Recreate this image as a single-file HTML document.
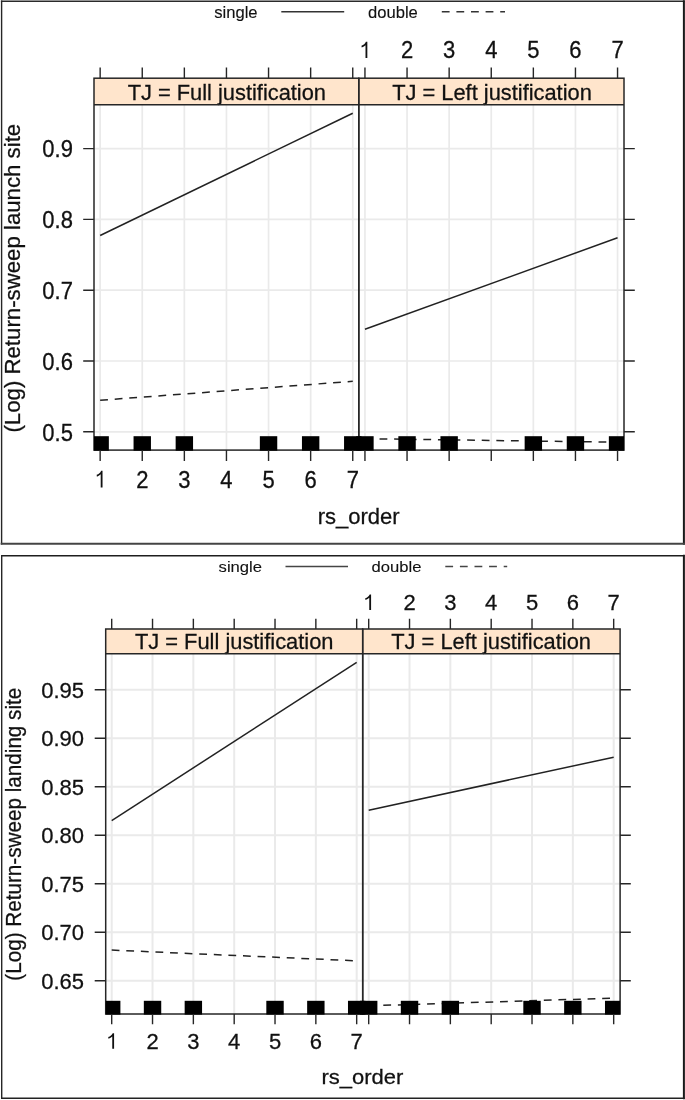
<!DOCTYPE html>
<html><head><meta charset="utf-8"><title>Return-sweep effects plots</title>
<style>
html,body{margin:0;padding:0;background:#fff;}
body{width:685px;height:1100px;overflow:hidden;}
svg{display:block;font-family:"Liberation Sans",sans-serif;will-change:transform;}
text{fill:#111;stroke:#111;stroke-width:0.28px;}
text.lg{stroke-width:0.12px;}
</style></head>
<body>
<svg width="685" height="1100" viewBox="0 0 685 1100">
<rect x="0" y="0" width="685" height="1100" fill="#fff"/>
<line x1="1.6" y1="1.2" x2="683.9" y2="1.2" stroke="#2a2a2a" stroke-width="1.4" stroke-linecap="square"/>
<line x1="1.6" y1="1.2" x2="1.6" y2="543.8" stroke="#262626" stroke-width="1.4" stroke-linecap="square"/>
<line x1="683.9" y1="1.2" x2="683.9" y2="543.8" stroke="#1a1a1a" stroke-width="2" stroke-linecap="square"/>
<line x1="1.6" y1="543.8" x2="683.9" y2="543.8" stroke="#444444" stroke-width="1.9" stroke-linecap="square"/>
<text x="214.2" y="17.9" font-size="16.6" text-anchor="start" class="lg">single</text>
<line x1="281.3" y1="11.7" x2="344.2" y2="11.7" stroke="#333333" stroke-width="1.5" />
<text x="368" y="17.9" font-size="16.6" text-anchor="start" class="lg">double</text>
<line x1="441.8" y1="11.8" x2="505" y2="11.8" stroke="#333333" stroke-width="1.5" stroke-dasharray="7.8 6.8"/>
<clipPath id="ca0"><rect x="94" y="104.8" width="264.8" height="345.3"/></clipPath>
<clipPath id="ca1"><rect x="358.8" y="104.8" width="265.2" height="345.3"/></clipPath>
<path d="M100.15 104.8V450.1M142.25 104.8V450.1M184.35 104.8V450.1M226.45 104.8V450.1M268.55 104.8V450.1M310.65 104.8V450.1M352.75 104.8V450.1M94 431.8H358.8M94 361H358.8M94 290.2H358.8M94 219.4H358.8M94 148.6H358.8" stroke="#eaeaea" stroke-width="1.7" fill="none"/>
<path d="M364.95 104.8V450.1M407.05 104.8V450.1M449.15 104.8V450.1M491.25 104.8V450.1M533.35 104.8V450.1M575.45 104.8V450.1M617.55 104.8V450.1M358.8 431.8H624M358.8 361H624M358.8 290.2H624M358.8 219.4H624M358.8 148.6H624" stroke="#eaeaea" stroke-width="1.7" fill="none"/>
<g clip-path="url(#ca0)">
<line x1="100.15" y1="235.5" x2="352.75" y2="113.2" stroke="#222222" stroke-width="1.5" />
<line x1="100.15" y1="400.3" x2="352.75" y2="381.3" stroke="#222222" stroke-width="1.5" stroke-dasharray="7.8 6.8"/>
</g>
<g clip-path="url(#ca1)">
<line x1="364.95" y1="329.2" x2="617.55" y2="237.8" stroke="#222222" stroke-width="1.5" />
<line x1="364.95" y1="438.7" x2="617.55" y2="442.2" stroke="#222222" stroke-width="1.5" stroke-dasharray="7.8 6.8"/>
</g>
<rect x="94" y="78.2" width="264.8" height="26.6" fill="#ffe5cc" stroke="none" stroke-width="1" />
<rect x="358.8" y="78.2" width="265.2" height="26.6" fill="#ffe5cc" stroke="none" stroke-width="1" />
<text transform="translate(226.8 99.9) scale(1 1.02)" font-size="21.85" text-anchor="middle" >TJ = Full justification</text>
<text transform="translate(492 99.9) scale(1 1.02)" font-size="21.85" text-anchor="middle" >TJ = Left justification</text>
<rect x="94" y="78.2" width="264.8" height="371.9" fill="none" stroke="#262626" stroke-width="1.5" />
<line x1="94" y1="104.8" x2="358.8" y2="104.8" stroke="#262626" stroke-width="1.5" />
<rect x="358.8" y="78.2" width="265.2" height="371.9" fill="none" stroke="#262626" stroke-width="1.5" />
<line x1="358.8" y1="104.8" x2="624" y2="104.8" stroke="#262626" stroke-width="1.5" />
<rect x="94" y="436.2" width="14.85" height="14.5" fill="#000" stroke="none" stroke-width="1" />
<rect x="133.55" y="436.2" width="17.4" height="14.5" fill="#000" stroke="none" stroke-width="1" />
<rect x="175.65" y="436.2" width="17.4" height="14.5" fill="#000" stroke="none" stroke-width="1" />
<rect x="259.85" y="436.2" width="17.4" height="14.5" fill="#000" stroke="none" stroke-width="1" />
<rect x="301.95" y="436.2" width="17.4" height="14.5" fill="#000" stroke="none" stroke-width="1" />
<rect x="344.05" y="436.2" width="17.4" height="14.5" fill="#000" stroke="none" stroke-width="1" />
<rect x="356.25" y="436.2" width="17.4" height="14.5" fill="#000" stroke="none" stroke-width="1" />
<rect x="398.35" y="436.2" width="17.4" height="14.5" fill="#000" stroke="none" stroke-width="1" />
<rect x="440.45" y="436.2" width="17.4" height="14.5" fill="#000" stroke="none" stroke-width="1" />
<rect x="524.65" y="436.2" width="17.4" height="14.5" fill="#000" stroke="none" stroke-width="1" />
<rect x="566.75" y="436.2" width="17.4" height="14.5" fill="#000" stroke="none" stroke-width="1" />
<rect x="608.85" y="436.2" width="15.15" height="14.5" fill="#000" stroke="none" stroke-width="1" />
<path d="M100.15 78.2V67.6M100.15 450.1V460.9M142.25 78.2V67.6M142.25 450.1V460.9M184.35 78.2V67.6M184.35 450.1V460.9M226.45 78.2V67.6M226.45 450.1V460.9M268.55 78.2V67.6M268.55 450.1V460.9M310.65 78.2V67.6M310.65 450.1V460.9M352.75 78.2V67.6M352.75 450.1V460.9M364.95 78.2V67.6M364.95 450.1V460.9M407.05 78.2V67.6M407.05 450.1V460.9M449.15 78.2V67.6M449.15 450.1V460.9M491.25 78.2V67.6M491.25 450.1V460.9M533.35 78.2V67.6M533.35 450.1V460.9M575.45 78.2V67.6M575.45 450.1V460.9M617.55 78.2V67.6M617.55 450.1V460.9M94 431.8H83.2M624 431.8H634.8M94 361H83.2M624 361H634.8M94 290.2H83.2M624 290.2H634.8M94 219.4H83.2M624 219.4H634.8M94 148.6H83.2M624 148.6H634.8" stroke="#262626" stroke-width="1.4" fill="none"/>
<path d="M367.33 57.9L367.33 41.66L365.95 41.66C365.15 43.58 363.61 44.96 361.46 45.7L361.72 47.55C363.39 46.86 364.63 46.12 365.51 45.24L365.51 57.9Z" fill="#111"/>
<path d="M102.53 487.5L102.53 470.64L101.15 470.64C100.35 472.63 98.81 474.07 96.66 474.84L96.92 476.76C98.59 476.04 99.83 475.27 100.71 474.36L100.71 487.5Z" fill="#111"/>
<text transform="translate(407.05 57.9) scale(1 1.05)" font-size="22" text-anchor="middle" >2</text>
<text transform="translate(142.25 487.5) scale(1 1.09)" font-size="22" text-anchor="middle" >2</text>
<text transform="translate(449.15 57.9) scale(1 1.05)" font-size="22" text-anchor="middle" >3</text>
<text transform="translate(184.35 487.5) scale(1 1.09)" font-size="22" text-anchor="middle" >3</text>
<text transform="translate(491.25 57.9) scale(1 1.05)" font-size="22" text-anchor="middle" >4</text>
<text transform="translate(226.45 487.5) scale(1 1.09)" font-size="22" text-anchor="middle" >4</text>
<text transform="translate(533.35 57.9) scale(1 1.05)" font-size="22" text-anchor="middle" >5</text>
<text transform="translate(268.55 487.5) scale(1 1.09)" font-size="22" text-anchor="middle" >5</text>
<text transform="translate(575.45 57.9) scale(1 1.05)" font-size="22" text-anchor="middle" >6</text>
<text transform="translate(310.65 487.5) scale(1 1.09)" font-size="22" text-anchor="middle" >6</text>
<text transform="translate(617.55 57.9) scale(1 1.05)" font-size="22" text-anchor="middle" >7</text>
<text transform="translate(352.75 487.5) scale(1 1.09)" font-size="22" text-anchor="middle" >7</text>
<text transform="translate(72.9 440.5) scale(1 1.1)" font-size="22" text-anchor="end" >0.5</text>
<text transform="translate(72.9 369.7) scale(1 1.1)" font-size="22" text-anchor="end" >0.6</text>
<text transform="translate(72.9 298.9) scale(1 1.1)" font-size="22" text-anchor="end" >0.7</text>
<text transform="translate(72.9 228.1) scale(1 1.1)" font-size="22" text-anchor="end" >0.8</text>
<text transform="translate(72.9 157.3) scale(1 1.1)" font-size="22" text-anchor="end" >0.9</text>
<text x="358.6" y="524.2" font-size="22" text-anchor="middle" >rs_order</text>
<text x="0" y="0" font-size="22" text-anchor="middle" transform="translate(20.4 278.2) scale(1.02 1.01) rotate(-90)">(Log) Return-sweep launch site</text>
<line x1="1.7" y1="555.7" x2="683.9" y2="555.7" stroke="#1e1e1e" stroke-width="1.4" stroke-linecap="square"/>
<line x1="1.7" y1="555.7" x2="1.7" y2="1098.3" stroke="#262626" stroke-width="1.4" stroke-linecap="square"/>
<line x1="683.9" y1="555.7" x2="683.9" y2="1098.3" stroke="#1a1a1a" stroke-width="2" stroke-linecap="square"/>
<line x1="1.7" y1="1098.3" x2="683.9" y2="1098.3" stroke="#222222" stroke-width="1.4" stroke-linecap="square"/>
<text transform="translate(218.6 571.8) scale(1 0.91)" font-size="16.6" text-anchor="start" class="lg">single</text>
<line x1="285.5" y1="566.4" x2="348" y2="566.4" stroke="#454545" stroke-width="1.5" />
<text transform="translate(371.6 571.8) scale(1 0.91)" font-size="16.6" text-anchor="start" class="lg">double</text>
<line x1="445.3" y1="566.4" x2="507.2" y2="566.4" stroke="#454545" stroke-width="1.5" stroke-dasharray="7.8 6.8"/>
<clipPath id="cb0"><rect x="105.7" y="653.8" width="257" height="360.2"/></clipPath>
<clipPath id="cb1"><rect x="362.7" y="653.8" width="257.4" height="360.2"/></clipPath>
<path d="M111.7 653.8V1014M152.53 653.8V1014M193.36 653.8V1014M234.19 653.8V1014M275.02 653.8V1014M315.85 653.8V1014M356.68 653.8V1014M105.7 980.8H362.7M105.7 932.3H362.7M105.7 883.8H362.7M105.7 835.3H362.7M105.7 786.8H362.7M105.7 738.3H362.7M105.7 689.8H362.7" stroke="#eaeaea" stroke-width="2" fill="none"/>
<path d="M368.7 653.8V1014M409.53 653.8V1014M450.36 653.8V1014M491.19 653.8V1014M532.02 653.8V1014M572.85 653.8V1014M613.68 653.8V1014M362.7 980.8H620.1M362.7 932.3H620.1M362.7 883.8H620.1M362.7 835.3H620.1M362.7 786.8H620.1M362.7 738.3H620.1M362.7 689.8H620.1" stroke="#eaeaea" stroke-width="2" fill="none"/>
<g clip-path="url(#cb0)">
<line x1="111.7" y1="820.6" x2="356.68" y2="662.3" stroke="#222222" stroke-width="1.5" />
<line x1="111.7" y1="950.1" x2="356.68" y2="960.8" stroke="#222222" stroke-width="1.5" stroke-dasharray="7.8 6.8"/>
</g>
<g clip-path="url(#cb1)">
<line x1="368.7" y1="810.2" x2="613.68" y2="757.2" stroke="#222222" stroke-width="1.5" />
<line x1="368.7" y1="1005.8" x2="613.68" y2="998.1" stroke="#222222" stroke-width="1.5" stroke-dasharray="7.8 6.8"/>
</g>
<rect x="105.7" y="629" width="257" height="24.8" fill="#ffe5cc" stroke="none" stroke-width="1" />
<rect x="362.7" y="629" width="257.4" height="24.8" fill="#ffe5cc" stroke="none" stroke-width="1" />
<text x="234.2" y="649.1" font-size="21.85" text-anchor="middle" >TJ = Full justification</text>
<text x="491.1" y="649.1" font-size="21.85" text-anchor="middle" >TJ = Left justification</text>
<rect x="105.7" y="629" width="257" height="385" fill="none" stroke="#262626" stroke-width="1.5" />
<line x1="105.7" y1="653.8" x2="362.7" y2="653.8" stroke="#262626" stroke-width="1.5" />
<rect x="362.7" y="629" width="257.4" height="385" fill="none" stroke="#262626" stroke-width="1.5" />
<line x1="362.7" y1="653.8" x2="620.1" y2="653.8" stroke="#262626" stroke-width="1.5" />
<rect x="105.7" y="1000.8" width="14.7" height="13.8" fill="#000" stroke="none" stroke-width="1" />
<rect x="143.83" y="1000.8" width="17.4" height="13.8" fill="#000" stroke="none" stroke-width="1" />
<rect x="184.66" y="1000.8" width="17.4" height="13.8" fill="#000" stroke="none" stroke-width="1" />
<rect x="266.32" y="1000.8" width="17.4" height="13.8" fill="#000" stroke="none" stroke-width="1" />
<rect x="307.15" y="1000.8" width="17.4" height="13.8" fill="#000" stroke="none" stroke-width="1" />
<rect x="347.98" y="1000.8" width="17.4" height="13.8" fill="#000" stroke="none" stroke-width="1" />
<rect x="360" y="1000.8" width="17.4" height="13.8" fill="#000" stroke="none" stroke-width="1" />
<rect x="400.83" y="1000.8" width="17.4" height="13.8" fill="#000" stroke="none" stroke-width="1" />
<rect x="441.66" y="1000.8" width="17.4" height="13.8" fill="#000" stroke="none" stroke-width="1" />
<rect x="523.32" y="1000.8" width="17.4" height="13.8" fill="#000" stroke="none" stroke-width="1" />
<rect x="564.15" y="1000.8" width="17.4" height="13.8" fill="#000" stroke="none" stroke-width="1" />
<rect x="604.98" y="1000.8" width="15.12" height="13.8" fill="#000" stroke="none" stroke-width="1" />
<path d="M111.7 629V618.7M111.7 1014V1024.2M152.53 629V618.7M152.53 1014V1024.2M193.36 629V618.7M193.36 1014V1024.2M234.19 629V618.7M234.19 1014V1024.2M275.02 629V618.7M275.02 1014V1024.2M315.85 629V618.7M315.85 1014V1024.2M356.68 629V618.7M356.68 1014V1024.2M368.7 629V618.7M368.7 1014V1024.2M409.53 629V618.7M409.53 1014V1024.2M450.36 629V618.7M450.36 1014V1024.2M491.19 629V618.7M491.19 1014V1024.2M532.02 629V618.7M532.02 1014V1024.2M572.85 629V618.7M572.85 1014V1024.2M613.68 629V618.7M613.68 1014V1024.2M105.7 980.8H94.7M620.1 980.8H630.8M105.7 932.3H94.7M620.1 932.3H630.8M105.7 883.8H94.7M620.1 883.8H630.8M105.7 835.3H94.7M620.1 835.3H630.8M105.7 786.8H94.7M620.1 786.8H630.8M105.7 738.3H94.7M620.1 738.3H630.8M105.7 689.8H94.7M620.1 689.8H630.8" stroke="#262626" stroke-width="1.4" fill="none"/>
<path d="M371.08 609.9L371.08 594.43L369.7 594.43C368.9 596.26 367.36 597.58 365.21 598.28L365.47 600.04C367.14 599.38 368.38 598.68 369.26 597.84L369.26 609.9Z" fill="#111"/>
<path d="M114.08 1048.8L114.08 1033.18L112.7 1033.18C111.9 1035.02 110.36 1036.36 108.21 1037.07L108.47 1038.85C110.14 1038.18 111.38 1037.47 112.26 1036.62L112.26 1048.8Z" fill="#111"/>
<text x="409.53" y="609.9" font-size="22" text-anchor="middle" >2</text>
<text transform="translate(152.53 1048.8) scale(1 1.01)" font-size="22" text-anchor="middle" >2</text>
<text x="450.36" y="609.9" font-size="22" text-anchor="middle" >3</text>
<text transform="translate(193.36 1048.8) scale(1 1.01)" font-size="22" text-anchor="middle" >3</text>
<text x="491.19" y="609.9" font-size="22" text-anchor="middle" >4</text>
<text transform="translate(234.19 1048.8) scale(1 1.01)" font-size="22" text-anchor="middle" >4</text>
<text x="532.02" y="609.9" font-size="22" text-anchor="middle" >5</text>
<text transform="translate(275.02 1048.8) scale(1 1.01)" font-size="22" text-anchor="middle" >5</text>
<text x="572.85" y="609.9" font-size="22" text-anchor="middle" >6</text>
<text transform="translate(315.85 1048.8) scale(1 1.01)" font-size="22" text-anchor="middle" >6</text>
<text x="613.68" y="609.9" font-size="22" text-anchor="middle" >7</text>
<text transform="translate(356.68 1048.8) scale(1 1.01)" font-size="22" text-anchor="middle" >7</text>
<text x="84" y="988.7" font-size="22" text-anchor="end" >0.65</text>
<text x="84" y="940.2" font-size="22" text-anchor="end" >0.70</text>
<text x="84" y="891.7" font-size="22" text-anchor="end" >0.75</text>
<text x="84" y="843.2" font-size="22" text-anchor="end" >0.80</text>
<text x="84" y="794.7" font-size="22" text-anchor="end" >0.85</text>
<text x="84" y="746.2" font-size="22" text-anchor="end" >0.90</text>
<text x="84" y="697.7" font-size="22" text-anchor="end" >0.95</text>
<text transform="translate(362.4 1083.5) scale(1 0.94)" font-size="22" text-anchor="middle" >rs_order</text>
<text x="0" y="0" font-size="22" text-anchor="middle" transform="translate(20.5 834.2) scale(1.02 0.94) rotate(-90)">(Log) Return-sweep landing site</text>
</svg>
</body></html>
